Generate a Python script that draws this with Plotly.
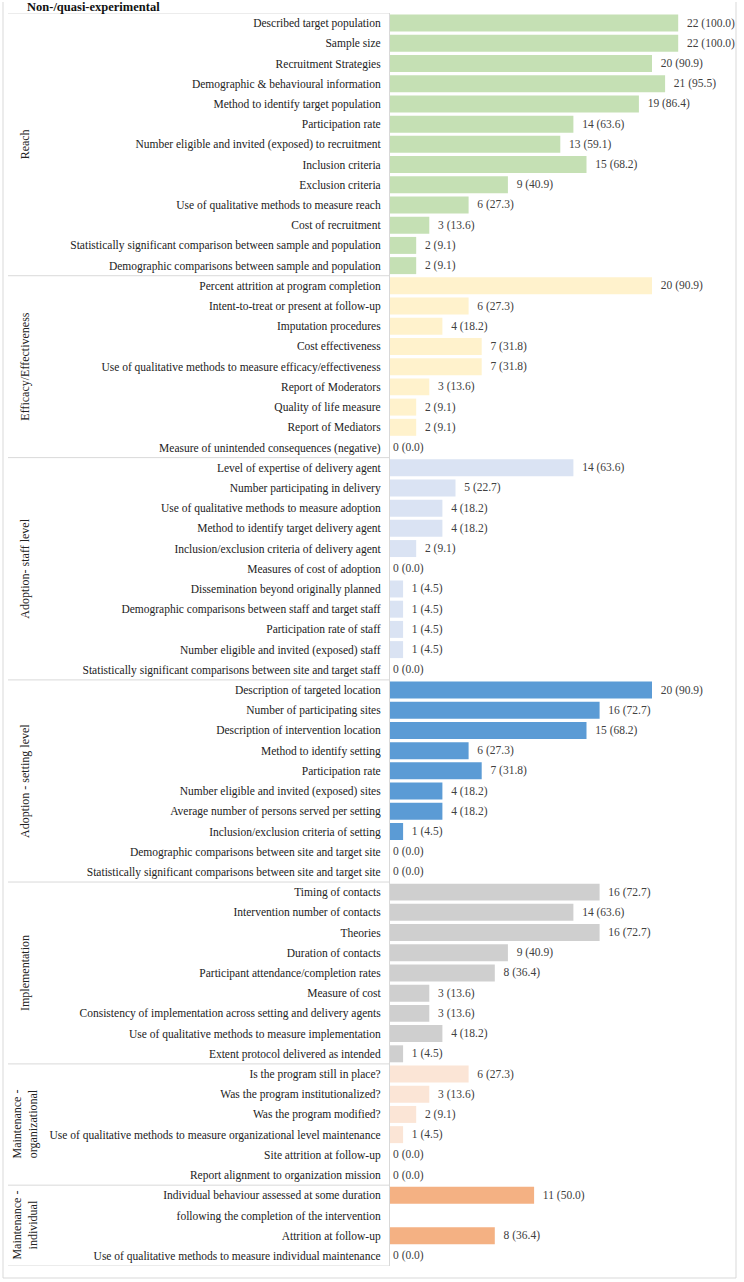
import plotly.graph_objects as go

# ---------------- data ----------------
group_names = ["Reach", "Efficacy/Effectiveness", "Adoption- staff level",
               "Adoption - setting level", "Implementation",
               "Maintenance -<br>organizational", "Maintenance -<br>individual"]

reach_labels = ["Described target population", "Sample size", "Recruitment Strategies",
                "Demographic & behavioural information", "Method to identify target population",
                "Participation rate", "Number eligible and invited (exposed) to recruitment",
                "Inclusion criteria", "Exclusion criteria", "Use of qualitative methods to measure reach",
                "Cost of recruitment", "Statistically significant comparison between sample and population",
                "Demographic comparisons between sample and population"]
reach_n = [22, 22, 20, 21, 19, 14, 13, 15, 9, 6, 3, 2, 2]
reach_pct = [100.0, 100.0, 90.9, 95.5, 86.4, 63.6, 59.1, 68.2, 40.9, 27.3, 13.6, 9.1, 9.1]

eff_labels = ["Percent attrition at program completion", "Intent-to-treat or present at follow-up",
              "Imputation procedures", "Cost effectiveness",
              "Use of qualitative methods to measure efficacy/effectiveness", "Report of Moderators",
              "Quality of life measure", "Report of Mediators",
              "Measure of unintended consequences (negative)"]
eff_n = [20, 6, 4, 7, 7, 3, 2, 2, 0]
eff_pct = [90.9, 27.3, 18.2, 31.8, 31.8, 13.6, 9.1, 9.1, 0.0]

staff_labels = ["Level of expertise of delivery agent", "Number participating in delivery",
                "Use of qualitative methods to measure adoption", "Method to identify target delivery agent",
                "Inclusion/exclusion criteria of delivery agent", "Measures of cost of adoption",
                "Dissemination beyond originally planned",
                "Demographic comparisons between staff and target staff", "Participation rate of staff",
                "Number eligible and invited (exposed) staff",
                "Statistically significant comparisons between site and target staff"]
staff_n = [14, 5, 4, 4, 2, 0, 1, 1, 1, 1, 0]
staff_pct = [63.6, 22.7, 18.2, 18.2, 9.1, 0.0, 4.5, 4.5, 4.5, 4.5, 0.0]

setting_labels = ["Description of targeted location", "Number of participating sites",
                  "Description of intervention location", "Method to identify setting",
                  "Participation rate", "Number eligible and invited (exposed) sites",
                  "Average number of persons served per setting", "Inclusion/exclusion criteria of setting",
                  "Demographic comparisons between site and target site",
                  "Statistically significant comparisons between site and target site"]
setting_n = [20, 16, 15, 6, 7, 4, 4, 1, 0, 0]
setting_pct = [90.9, 72.7, 68.2, 27.3, 31.8, 18.2, 18.2, 4.5, 0.0, 0.0]

impl_labels = ["Timing of contacts", "Intervention number of contacts", "Theories",
               "Duration of contacts", "Participant attendance/completion rates", "Measure of cost",
               "Consistency of implementation across setting and delivery agents",
               "Use of qualitative methods to measure implementation",
               "Extent protocol delivered as intended"]
impl_n = [16, 14, 16, 9, 8, 3, 3, 4, 1]
impl_pct = [72.7, 63.6, 72.7, 40.9, 36.4, 13.6, 13.6, 18.2, 4.5]

morg_labels = ["Is the program still in place?", "Was the program institutionalized?",
               "Was the program modified?",
               "Use of qualitative methods to measure organizational level maintenance",
               "Site attrition at follow-up", "Report alignment to organization mission"]
morg_n = [6, 3, 2, 1, 0, 0]
morg_pct = [27.3, 13.6, 9.1, 4.5, 0.0, 0.0]

mind_labels = ["Individual behaviour assessed at some duration",
               "following the completion of the intervention",
               "Attrition at follow-up",
               "Use of qualitative methods to measure individual maintenance"]
mind_n = [11, None, 8, 0]
mind_pct = [50.0, None, 36.4, 0.0]

group_colors = ["#c5e0b4", "#fff2cc", "#dae3f3", "#5b9bd5", "#cfcfcf", "#fbe5d6", "#f4b183"]

groups = [
    (reach_labels, reach_n, reach_pct),
    (eff_labels, eff_n, eff_pct),
    (staff_labels, staff_n, staff_pct),
    (setting_labels, setting_n, setting_pct),
    (impl_labels, impl_n, impl_pct),
    (morg_labels, morg_n, morg_pct),
    (mind_labels, mind_n, mind_pct),
]

# ---------------- layout geometry ----------------
W_TOT, H_TOT = 744, 1282
M_L, M_R, M_T, M_B = 390, 9, 13, 16
PW = W_TOT - M_L - M_R
PH = H_TOT - M_T - M_B


def px_x(px):
    return (px - M_L) / PW


def px_y(py):
    return (H_TOT - M_B - py) / PH


SERIF = "Liberation Serif, Times New Roman, serif"
FS = 11.5

fig = go.Figure()
tickvals, ticktext = [], []
boundaries = [-0.5]
row = 0
group_centers = []
for (labels, ns, pcts), color, gname in zip(groups, group_colors, group_names):
    ys = list(range(row, row + len(labels)))
    texts = []
    for n, p in zip(ns, pcts):
        if n is None:
            texts.append("")
        elif n == 0:
            texts.append(f"{n} ({p:.1f})")
        else:
            texts.append(f"  {n} ({p:.1f})")
    fig.add_trace(go.Bar(
        x=ns, y=ys, orientation="h", marker=dict(color=color, line=dict(width=0)),
        text=texts, textposition="outside", cliponaxis=False, constraintext="none",
        textfont=dict(family=SERIF, size=FS, color="#404040"),
        showlegend=False, name=gname.replace("<br>", " "),
    ))
    tickvals += ys
    ticktext += labels
    group_centers.append((row + row + len(labels) - 1) / 2)
    row += len(labels)
    boundaries.append(row - 0.5)

n_rows = row

fig.update_layout(
    width=W_TOT, height=H_TOT,
    margin=dict(l=M_L, r=M_R, t=M_T, b=M_B, autoexpand=False),
    paper_bgcolor="white", plot_bgcolor="white",
    bargap=0.16,
    font=dict(family=SERIF, size=FS, color="#222222"),
    xaxis=dict(range=[0, PW / 13.1], visible=False, fixedrange=True),
    yaxis=dict(range=[n_rows - 0.5, -0.5], tickmode="array", tickvals=tickvals, ticktext=ticktext,
               ticks="outside", ticklen=6, tickcolor="rgba(0,0,0,0)",
               showline=True, linecolor="#d9d9d9", linewidth=1, showgrid=False, zeroline=False,
               tickfont=dict(family=SERIF, size=FS, color="#222222")),
)

shapes = []
for b in boundaries:
    shapes.append(dict(type="line", xref="paper", yref="y", x0=px_x(8), x1=px_x(390),
                       y0=b, y1=b, line=dict(color="#d9d9d9", width=1)))
# outer frame
border = dict(color="#d9d9d9", width=1)
shapes.append(dict(type="line", xref="paper", yref="paper", x0=px_x(3), x1=px_x(3),
                   y0=px_y(2), y1=px_y(1278), line=border))
shapes.append(dict(type="line", xref="paper", yref="paper", x0=px_x(736), x1=px_x(736),
                   y0=px_y(2), y1=px_y(1278), line=border))
shapes.append(dict(type="line", xref="paper", yref="paper", x0=px_x(3), x1=px_x(736),
                   y0=px_y(1278), y1=px_y(1278), line=border))
fig.update_layout(shapes=shapes)

annotations = [dict(text="<b>Non-/quasi-experimental</b>", xref="paper", yref="paper",
                    x=px_x(25), y=px_y(7), xanchor="left", yanchor="middle", showarrow=False,
                    font=dict(family=SERIF, size=12.5, color="#111111"))]
for gname, c in zip(group_names, group_centers):
    annotations.append(dict(text=gname, xref="paper", yref="y", x=px_x(25), y=c,
                            xanchor="center", yanchor="middle", textangle=-90, showarrow=False,
                            font=dict(family=SERIF, size=12, color="#222222")))
fig.update_layout(annotations=annotations)

fig.write_html("out.html", config={"displayModeBar": False},
               post_script="document.body.style.margin='0';document.body.style.padding='0';")
